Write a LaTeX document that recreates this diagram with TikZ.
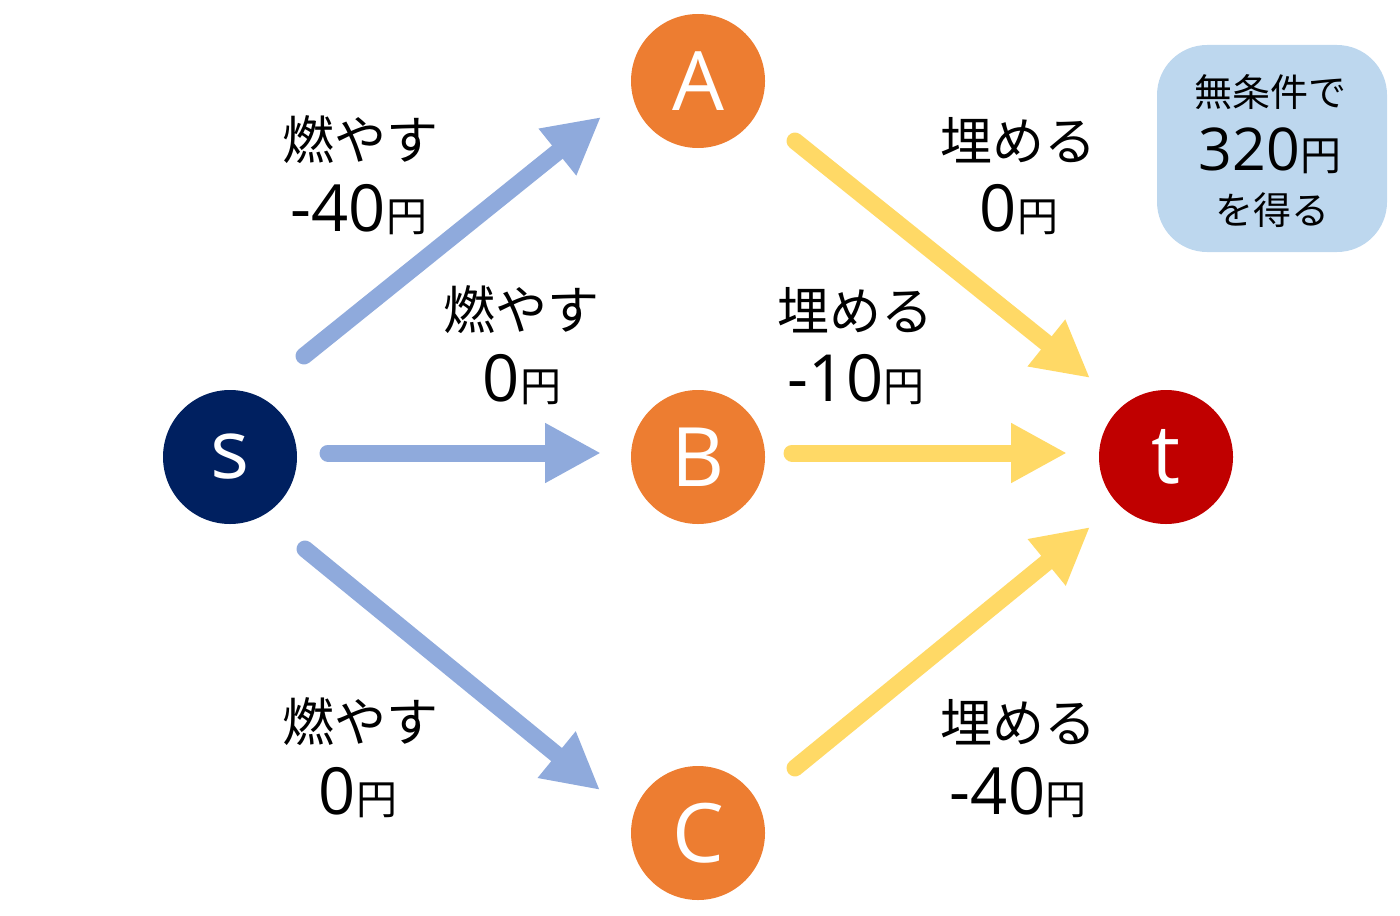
\documentclass[tikz,border=0pt]{standalone}
\usepackage{fontspec}
\setmainfont{Noto Sans CJK JP}
\newfontfamily\lat{Open Sans}
\usetikzlibrary{arrows.meta}
\definecolor{navy}{HTML}{002060}
\definecolor{orng}{HTML}{ED7D31}
\definecolor{dred}{HTML}{C00000}
\definecolor{blu}{HTML}{8FAADC}
\definecolor{yel}{HTML}{FFD966}
\definecolor{boxc}{HTML}{BDD7EE}
\newcommand{\kj}[1]{{\fontsize{26pt}{30pt}\selectfont #1}}
\newcommand{\num}[1]{{\lat\fontsize{32.5pt}{36pt}\selectfont #1}}
\newcommand{\yen}{{\fontsize{20.5pt}{24pt}\selectfont 円}}
\tikzset{
  vert/.style={circle, minimum size=67pt, inner sep=0pt, text=white, font=\lat\fontsize{41pt}{44pt}\selectfont},
  lab/.style={inner sep=0pt, text=black},
  burn/.style={draw=blu, line width=8.5pt, line cap=round, -{Triangle[width=28pt,length=28pt]}},
  bury/.style={draw=yel, line width=8.5pt, line cap=round, -{Triangle[width=28pt,length=28pt]}},
}
\begin{document}
\begin{tikzpicture}[x=0.5pt,y=-0.5pt]
\useasboundingbox (0,0) rectangle (1400,915);
\node[vert, fill=navy] (s) at (230,457) {s};
\node[vert, fill=orng] (A) at (698,81) {A};
\node[vert, fill=orng] (B) at (698,457) {B};
\node[vert, fill=orng] (C) at (698,833) {C};
\node[vert, fill=dred] (t) at (1166,457) {t};

\coordinate (sA1) at (304,356); \coordinate (sA2) at (601,117);
\coordinate (sB1) at (328,453); \coordinate (sB2) at (601,453);
\coordinate (sC1) at (305,549); \coordinate (sC2) at (600,790);
\coordinate (At1) at (795,141); \coordinate (At2) at (1090,378);
\coordinate (Bt1) at (792,453); \coordinate (Bt2) at (1067,453);
\coordinate (Ct1) at (795,768); \coordinate (Ct2) at (1090,527);
\draw[burn] (sA1) -- (sA2);
\draw[burn] (sB1) -- (sB2);
\draw[burn] (sC1) -- (sC2);
\draw[bury] (At1) -- (At2);
\draw[bury] (Bt1) -- (Bt2);
\draw[bury] (Ct1) -- (Ct2);

\node[lab] (l1a) at (360,140) {\kj{燃やす}};
\node[lab] (l1b) at (359,210) {\num{-40}\yen};
\node[lab] (l2a) at (521,310) {\kj{燃やす}};
\node[lab] (l2b) at (522,380) {\num{0}\yen};
\node[lab] (l3a) at (360,722) {\kj{燃やす}};
\node[lab] (l3b) at (358,793) {\num{0}\yen};
\node[lab] (l4a) at (1018,140) {\kj{埋める}};
\node[lab] (l4b) at (1019,210) {\num{0}\yen};
\node[lab] (l5a) at (855,310) {\kj{埋める}};
\node[lab] (l5b) at (856,380) {\num{-10}\yen};
\node[lab] (l6a) at (1018,722) {\kj{埋める}};
\node[lab] (l6b) at (1018,793) {\num{-40}\yen};

\node[fill=boxc, rounded corners=25pt, minimum width=115pt, minimum height=103.5pt, inner sep=0pt] (box) at (1272,148.5) {};
\node[lab] (b1) at (1270,92) {\fontsize{19pt}{22pt}\selectfont 無条件で};
\node[lab] (b2) at (1270,151) {{\lat\fontsize{29.5pt}{32pt}\selectfont 320}\yen};
\node[lab] (b3) at (1272,210) {\fontsize{19pt}{22pt}\selectfont を得る};
\end{tikzpicture}
\end{document}
